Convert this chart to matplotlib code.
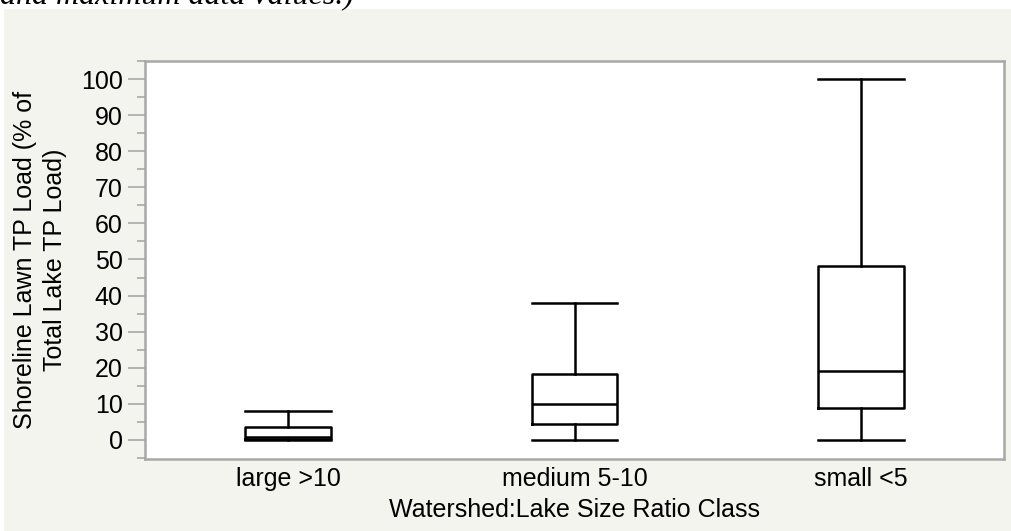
import matplotlib as mpl
mpl.use('Agg')
import matplotlib.pyplot as plt
from matplotlib.patches import Rectangle
from matplotlib.ticker import MultipleLocator

# box summaries (% of total lake TP load)
classes = ['large >10', 'medium 5-10', 'small <5']
whislo = [0.0, 0.0, 0.0]
q1 = [0.2, 4.3, 8.7]
med = [0.8, 10.0, 19.0]
q3 = [3.5, 18.3, 48.2]
whishi = [8.0, 38.0, 100.0]

plt.rcParams['font.family'] = ['Liberation Sans', 'DejaVu Sans']

fig = plt.figure(figsize=(10.11, 5.31), dpi=100)
fig.patch.set_facecolor('white')

# light panel behind the chart
fig.patches.append(Rectangle((4 / 1011, 0), 1, 1 - 9 / 531, transform=fig.transFigure,
                             facecolor='#f4f4ef', edgecolor='none', zorder=-10))

# caption text cut off at the top of the crop
fig.text(0.0, 1 - 4 / 531, 'and maximum data values.)', family='Liberation Serif',
         style='italic', fontsize=23, va='baseline', ha='left')

ax = fig.add_axes([145 / 1011, 1 - 459 / 531, (1004 - 145) / 1011, (459 - 61) / 531])
ax.set_facecolor('white')

stats = []
for i, name in enumerate(classes):
    stats.append(dict(label=name, whislo=whislo[i], q1=q1[i], med=med[i],
                      q3=q3[i], whishi=whishi[i], fliers=[]))

lw = 1.8
ax.bxp(stats, positions=range(len(classes)), widths=0.3, capwidths=0.3,
       showfliers=False,
       boxprops=dict(color='black', linewidth=lw),
       whiskerprops=dict(color='black', linewidth=lw),
       capprops=dict(color='black', linewidth=lw),
       medianprops=dict(color='black', linewidth=lw))

ax.set_xlim(-0.5, 2.5)
ax.set_ylim(-5.3, 105)
ax.set_yticks(range(0, 101, 10))
ax.yaxis.set_minor_locator(MultipleLocator(5))

for s in ax.spines.values():
    s.set_color('#a8a8a8')
    s.set_linewidth(1.8)

fs = 18
ax.tick_params(axis='y', which='major', length=12, width=1.2, color='#a8a8a8',
               labelsize=fs, pad=4)
ax.tick_params(axis='y', which='minor', length=6, width=1.2, color='#a8a8a8')
ax.tick_params(axis='x', length=0, labelsize=fs, pad=6)

ax.set_xlabel('Watershed:Lake Size Ratio Class', fontsize=fs, labelpad=5)
ax.set_ylabel('Shoreline Lawn TP Load (% of\nTotal Lake TP Load)', fontsize=fs,
              labelpad=10, linespacing=1.3)

plt.savefig('out.png', dpi=100)
